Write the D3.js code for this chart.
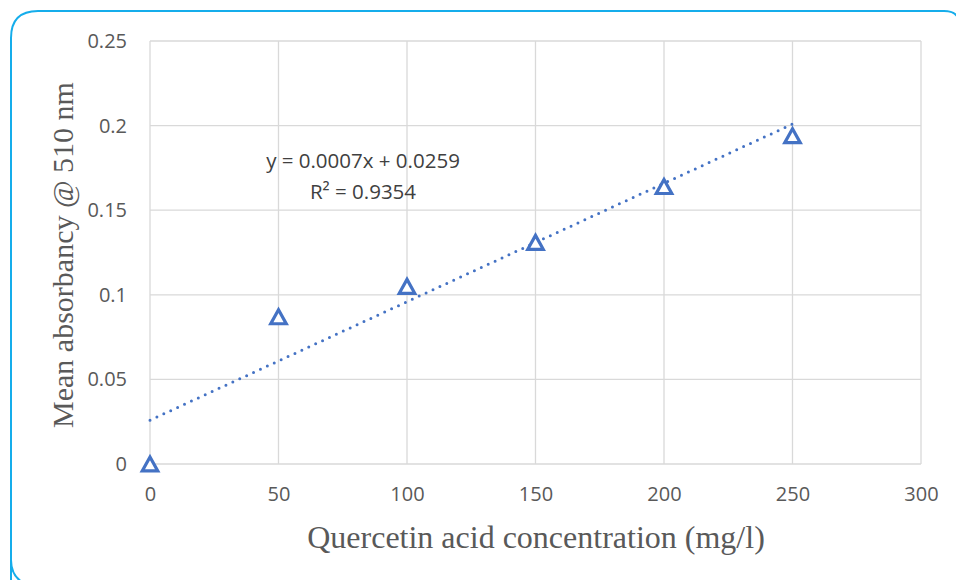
<!DOCTYPE html>
<html><head><meta charset="utf-8">
<script src="https://cdn.jsdelivr.net/npm/d3@7"></script>
<style>body{margin:0;background:#fff}svg{display:block}</style>
</head><body>
<svg id="c" width="956" height="580"></svg>
<script>
const concentrations = [0, 50, 100, 150, 200, 250];
const absorbance = [0.000, 0.087, 0.105, 0.131, 0.164, 0.194];
const xTicks = [0, 50, 100, 150, 200, 250, 300];
const yTicks = [0, 0.05, 0.1, 0.15, 0.2, 0.25];
const slope = 0.0007, intercept = 0.0259;
const eqText = "y = 0.0007x + 0.0259";
const r2Text = "R² = 0.9354";
const xTitle = "Quercetin acid concentration (mg/l)";
const yTitle = "Mean absorbancy @ 510 nm";

const svg = d3.select("#c");
const L = 150, R = 921, T = 41, B = 464;
const x = d3.scaleLinear().domain([0, 300]).range([L, R]);
const y = d3.scaleLinear().domain([0, 0.25]).range([B, T]);

// outer rounded frame
svg.append("path")
  .attr("d", "M11,600 L11,38 Q11,11 38,11 L944,11 Q955,11 958,18")
  .attr("fill", "none").attr("stroke", "#15ADEB").attr("stroke-width", 2);
svg.append("path")
  .attr("d", "M11,540 L11,560 Q11,575 22,582")
  .attr("fill", "none").attr("stroke", "#15ADEB").attr("stroke-width", 2);

// gridlines
const grid = svg.append("g");
grid.selectAll(".gx").data(xTicks).enter().append("line")
  .attr("x1", d => x(d)).attr("x2", d => x(d)).attr("y1", T).attr("y2", B)
  .attr("stroke", "#D9D9D9").attr("stroke-width", 1.3);
grid.selectAll(".gy").data(yTicks).enter().append("line")
  .attr("x1", L).attr("x2", R).attr("y1", d => y(d)).attr("y2", d => y(d))
  .attr("stroke", "#D9D9D9").attr("stroke-width", 1.3);

const tickFont = "'Open Sans', Lato, sans-serif";
const xAxis = svg.append("g").attr("transform", `translate(0,${B})`)
  .call(d3.axisBottom(x).tickValues(xTicks).tickSize(0).tickPadding(23).tickFormat(d3.format("d")));
xAxis.select(".domain").remove();
xAxis.attr("font-size", 20).attr("font-family", tickFont);
xAxis.selectAll("text").attr("font-family", tickFont).attr("font-size", 20).attr("fill", "#595959");

const yAxis = svg.append("g").attr("transform", `translate(${L},0)`)
  .call(d3.axisLeft(y).tickValues(yTicks).tickSize(0).tickPadding(23).tickFormat(d => String(+d.toFixed(2))));
yAxis.select(".domain").remove();
yAxis.attr("font-size", 20).attr("font-family", tickFont);
yAxis.selectAll("text").attr("font-family", tickFont).attr("font-size", 20).attr("fill", "#595959");

// trendline
svg.append("line")
  .attr("x1", x(0)).attr("y1", y(intercept))
  .attr("x2", x(250)).attr("y2", y(slope * 250 + intercept))
  .attr("stroke", "#4472C4").attr("stroke-width", 3)
  .attr("stroke-linecap", "round").attr("stroke-dasharray", "0,7.6");

// points: triangle marker centred on its bounding box
const triType = {
  draw(ctx, size) {
    const w = Math.sqrt(size), h = w * 0.9;
    ctx.moveTo(0, -h / 2);
    ctx.lineTo(w / 2, h / 2);
    ctx.lineTo(-w / 2, h / 2);
    ctx.closePath();
  }
};
const tri = d3.symbol().type(triType).size(240);
svg.selectAll(".pt").data(concentrations).enter().append("path")
  .attr("d", tri)
  .attr("transform", (d, i) => `translate(${x(d)},${y(absorbance[i])})`)
  .attr("fill", "#fff").attr("stroke", "#4472C4").attr("stroke-width", 3.2)
  .attr("stroke-linejoin", "miter");

// equation
svg.append("text").attr("x", 363).attr("y", 168).attr("text-anchor", "middle")
  .attr("font-family", tickFont).attr("font-size", 20.5).attr("fill", "#404040").text(eqText);
svg.append("text").attr("x", 363).attr("y", 199).attr("text-anchor", "middle")
  .attr("font-family", tickFont).attr("font-size", 20.5).attr("fill", "#404040").text(r2Text);

// axis titles
svg.append("text").attr("x", 536).attr("y", 548).attr("text-anchor", "middle")
  .attr("font-family", "'Liberation Serif', 'Times New Roman', serif").attr("font-size", 32)
  .attr("fill", "#595959").text(xTitle);
svg.append("text").attr("transform", "translate(73,255) rotate(-90)").attr("text-anchor", "middle")
  .attr("font-family", "'Liberation Serif', 'Times New Roman', serif").attr("font-size", 30)
  .attr("fill", "#595959").text(yTitle);
</script>
</body></html>
